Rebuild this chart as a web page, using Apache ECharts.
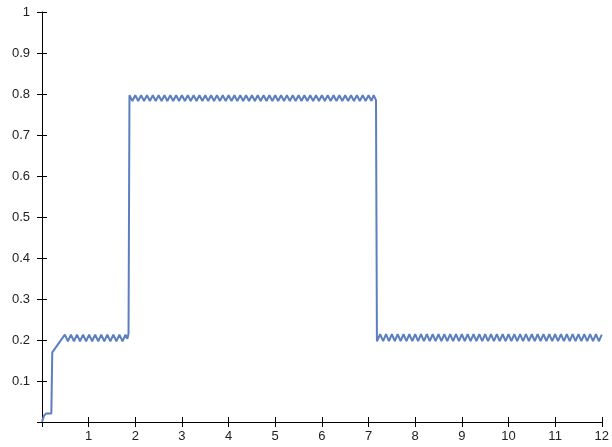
<!DOCTYPE html>
<html>
<head>
<meta charset="utf-8">
<script src="https://cdn.jsdelivr.net/npm/echarts@6/dist/echarts.min.js"></script>
<style>html,body{margin:0;padding:0;background:#fff}#c{width:612px;height:447px}</style>
</head>
<body>
<div id="c"></div>
<script>
// Initial rise
var startPts = [[0,0],[0.04,0.015],[0.09,0.021],[0.2,0.021],[0.22,0.17],[0.49,0.213]];
// First low sawtooth plateau (~0.2)
var lowTeeth1 = [[0.555,0.197],[0.62,0.213],[0.685,0.197],[0.75,0.213],[0.815,0.197],[0.88,0.213],[0.945,0.197],[1.01,0.213],[1.075,0.197],[1.14,0.213],[1.205,0.197],[1.27,0.213],[1.335,0.197],[1.4,0.213],[1.465,0.197],[1.53,0.213],[1.595,0.197],[1.66,0.213],[1.725,0.197],[1.79,0.213],[1.83,0.203],[1.855,0.215]];
// High sawtooth plateau (~0.8)
var highTeeth = [[1.875,0.797],[1.9375,0.783],[2,0.797],[2.0625,0.783],[2.125,0.797],[2.1875,0.783],[2.25,0.797],[2.3125,0.783],[2.375,0.797],[2.4375,0.783],[2.5,0.797],[2.5625,0.783],[2.625,0.797],[2.6875,0.783],[2.75,0.797],[2.8125,0.783],[2.875,0.797],[2.9375,0.783],[3,0.797],[3.0625,0.783],[3.125,0.797],[3.1875,0.783],[3.25,0.797],[3.3125,0.783],[3.375,0.797],[3.4375,0.783],[3.5,0.797],[3.5625,0.783],[3.625,0.797],[3.6875,0.783],[3.75,0.797],[3.8125,0.783],[3.875,0.797],[3.9375,0.783],[4,0.797],[4.0625,0.783],[4.125,0.797],[4.1875,0.783],[4.25,0.797],[4.3125,0.783],[4.375,0.797],[4.4375,0.783],[4.5,0.797],[4.5625,0.783],[4.625,0.797],[4.6875,0.783],[4.75,0.797],[4.8125,0.783],[4.875,0.797],[4.9375,0.783],[5,0.797],[5.0625,0.783],[5.125,0.797],[5.1875,0.783],[5.25,0.797],[5.3125,0.783],[5.375,0.797],[5.4375,0.783],[5.5,0.797],[5.5625,0.783],[5.625,0.797],[5.6875,0.783],[5.75,0.797],[5.8125,0.783],[5.875,0.797],[5.9375,0.783],[6,0.797],[6.0625,0.783],[6.125,0.797],[6.1875,0.783],[6.25,0.797],[6.3125,0.783],[6.375,0.797],[6.4375,0.783],[6.5,0.797],[6.5625,0.783],[6.625,0.797],[6.6875,0.783],[6.75,0.797],[6.8125,0.783],[6.875,0.797],[6.9375,0.783],[7,0.797],[7.0625,0.783],[7.11,0.797],[7.16,0.785]];
// Second low sawtooth plateau (~0.2)
var lowTeeth2 = [[7.18,0.197],[7.25,0.214],[7.3125,0.197],[7.375,0.214],[7.4375,0.197],[7.5,0.214],[7.5625,0.197],[7.625,0.214],[7.6875,0.197],[7.75,0.214],[7.8125,0.197],[7.875,0.214],[7.9375,0.197],[8,0.214],[8.0625,0.197],[8.125,0.214],[8.1875,0.197],[8.25,0.214],[8.3125,0.197],[8.375,0.214],[8.4375,0.197],[8.5,0.214],[8.5625,0.197],[8.625,0.214],[8.6875,0.197],[8.75,0.214],[8.8125,0.197],[8.875,0.214],[8.9375,0.197],[9,0.214],[9.0625,0.197],[9.125,0.214],[9.1875,0.197],[9.25,0.214],[9.3125,0.197],[9.375,0.214],[9.4375,0.197],[9.5,0.214],[9.5625,0.197],[9.625,0.214],[9.6875,0.197],[9.75,0.214],[9.8125,0.197],[9.875,0.214],[9.9375,0.197],[10,0.214],[10.0625,0.197],[10.125,0.214],[10.1875,0.197],[10.25,0.214],[10.3125,0.197],[10.375,0.214],[10.4375,0.197],[10.5,0.214],[10.5625,0.197],[10.625,0.214],[10.6875,0.197],[10.75,0.214],[10.8125,0.197],[10.875,0.214],[10.9375,0.197],[11,0.214],[11.0625,0.197],[11.125,0.214],[11.1875,0.197],[11.25,0.214],[11.3125,0.197],[11.375,0.214],[11.4375,0.197],[11.5,0.214],[11.5625,0.197],[11.625,0.214],[11.6875,0.197],[11.75,0.214],[11.8125,0.197],[11.875,0.214],[11.9375,0.197],[12,0.213]];

var xTickLabels = ['1','2','3','4','5','6','7','8','9','10','11','12'];
var yTickLabels = ['0.1','0.2','0.3','0.4','0.5','0.6','0.7','0.8','0.9','1'];

var lineData = startPts.concat(lowTeeth1, highTeeth, lowTeeth2);

var font = {fontFamily:'Liberation Sans', fontSize:13, color:'#222'};
var chart = echarts.init(document.getElementById('c'));
chart.setOption({
  animation:false,
  grid:{left:42,right:10,top:12,bottom:25,containLabel:false},
  xAxis:[{
    type:'value',min:0,max:12,interval:1,position:'bottom',
    axisLine:{show:true,onZero:false,lineStyle:{color:'#000',width:1}},
    axisTick:{show:true,length:5,lineStyle:{color:'#000'}},
    axisLabel:Object.assign({margin:8,formatter:function(v){return v===0?'':xTickLabels[v-1];}},font),
    splitLine:{show:false}
  },{
    type:'value',min:0,max:12,interval:1,position:'bottom',
    axisLine:{show:false,onZero:false},
    axisTick:{show:true,inside:true,length:5,lineStyle:{color:'#000'}},
    axisLabel:{show:false},splitLine:{show:false}
  }],
  yAxis:[{
    type:'value',min:0,max:1,interval:0.1,position:'left',
    axisLine:{show:true,onZero:false,lineStyle:{color:'#000',width:1}},
    axisTick:{show:true,length:5,lineStyle:{color:'#000'}},
    axisLabel:Object.assign({margin:12,formatter:function(v){var i=Math.round(v*10);return i===0?'':yTickLabels[i-1];}},font),
    splitLine:{show:false}
  },{
    type:'value',min:0,max:1,interval:0.1,position:'left',
    axisLine:{show:false,onZero:false},
    axisTick:{show:true,inside:true,length:5,lineStyle:{color:'#000'}},
    axisLabel:{show:false},splitLine:{show:false}
  }],
  series:[{
    type:'line',xAxisIndex:0,yAxisIndex:0,
    data:lineData,showSymbol:false,symbol:'none',
    lineStyle:{color:'#5b7fbf',width:2},
    itemStyle:{color:'#5b7fbf'}
  }]
});
</script>
</body>
</html>
